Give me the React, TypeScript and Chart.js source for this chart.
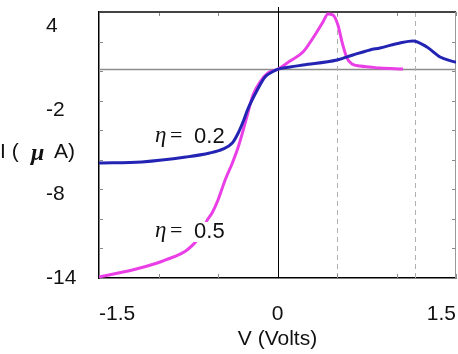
import React, { useEffect, useRef } from "react";
import { Chart, registerables } from "chart.js";

Chart.register(...registerables);

// eta = 0.2 curve (blue)
const blueV = [-1.5, -1.14, -0.77, -0.57, -0.46, -0.38, -0.33, -0.29, -0.25, -0.17, -0.105, -0.046, 0, 0.105, 0.214, 0.5, 0.634, 0.777, 0.861, 1.029, 1.139, 1.256, 1.366, 1.5];
const blueI = [-5.79, -5.71, -5.36, -5.07, -4.79, -4.36, -3.64, -2.86, -1.95, -0.57, 0.36, 0.71, 0.9, 1.07, 1.21, 1.57, 1.93, 2.29, 2.43, 2.79, 2.93, 2.5, 1.79, 1.4];

// eta = 0.5 curve (magenta)
const magentaV = [-1.5, -1.22, -1.01, -0.94, -0.76, -0.66, -0.59, -0.55, -0.5, -0.44, -0.38, -0.34, -0.3, -0.256, -0.206, -0.147, -0.08, 0, 0.105, 0.214, 0.298, 0.382, 0.424, 0.466, 0.508, 0.542, 0.584, 0.626, 0.693, 0.777, 0.861, 1.055];
const magentaI = [-13.93, -13.43, -12.93, -12.71, -12.0, -11.1, -9.86, -9.36, -8.43, -7.0, -5.8, -4.9, -3.79, -2.43, -0.93, 0.0, 0.64, 0.9, 1.5, 2.14, 3.14, 4.29, 4.86, 4.79, 4.07, 2.86, 1.71, 1.29, 1.14, 1.07, 1.0, 0.93];

const xTickValues = [-1.5, -1, -0.5, 0, 0.5, 1, 1.5];
const xTickLabels = ["-1.5", "", "", "0", "", "", "1.5"];
const yTickValues = [4, -2, -8, -14];
const yTickLabels = ["4", "-2", "-8", "-14"];
const yMinorTicks = [2.89, 0.78, -1.33, -3.44, -5.56, -7.67, -9.78, -11.89];
const zeroLineI = 0.9;
const dashedV = [0.5, 1.155];
const labelTexts = ["0.2", "0.5"];
const labelV = [-1.029, -1.029];
const labelI = [-4.36, -11.14];

const BLUE = "#2424b4";
const MAGENTA = "#ea3fe6";
const SANS = "'Liberation Sans', Arial, sans-serif";
const SERIF = "'Liberation Serif', 'Times New Roman', serif";

const decor = {
  id: "decor",
  beforeDatasetsDraw(chart: any) {
    const { ctx, chartArea, scales } = chart;
    const { left, right, top, bottom } = chartArea;
    const x = scales.x;
    const y = scales.y;
    const seg = (x1: number, y1: number, x2: number, y2: number) => {
      ctx.beginPath();
      ctx.moveTo(x1, y1);
      ctx.lineTo(x2, y2);
      ctx.stroke();
    };
    ctx.save();
    // horizontal reference line
    const zy = y.getPixelForValue(zeroLineI);
    ctx.strokeStyle = "#8c8c8c";
    ctx.lineWidth = 1.5;
    seg(left, zy, right, zy);
    // dashed vertical lines
    ctx.setLineDash([5, 4]);
    ctx.strokeStyle = "#b0b0b0";
    ctx.lineWidth = 1;
    dashedV.forEach((v) => {
      const px = Math.round(x.getPixelForValue(v)) + 0.5;
      seg(px, top, px, bottom);
    });
    ctx.setLineDash([]);
    // minor ticks
    ctx.strokeStyle = "#888";
    ctx.lineWidth = 1;
    yMinorTicks.forEach((v) => {
      const py = Math.round(y.getPixelForValue(v)) + 0.5;
      seg(left, py, left + 4, py);
      seg(right - 4, py, right, py);
    });
    xTickValues.forEach((v) => {
      const px = Math.round(x.getPixelForValue(v)) + 0.5;
      seg(px, bottom, px, bottom - 4);
      seg(px, top, px, top + 4);
    });
    // frame top and right
    ctx.strokeStyle = "#444";
    ctx.lineWidth = 2;
    seg(left, top, right, top);
    ctx.strokeStyle = "#999";
    ctx.lineWidth = 1;
    seg(right - 0.5, top, right - 0.5, bottom);
    // vertical axis at V = 0
    const x0 = Math.round(x.getPixelForValue(0)) + 0.5;
    ctx.strokeStyle = "#000";
    ctx.lineWidth = 1;
    seg(x0, top - 5, x0, bottom);
    ctx.restore();
  },
  afterDatasetsDraw(chart: any) {
    const { ctx, scales } = chart;
    const x = scales.x;
    const y = scales.y;
    ctx.save();
    ctx.textBaseline = "alphabetic";
    ctx.textAlign = "left";
    labelTexts.forEach((t, i) => {
      const px = x.getPixelForValue(labelV[i]);
      const py = y.getPixelForValue(labelI[i]);
      if (i === 1) {
        ctx.fillStyle = "#fff";
        ctx.fillRect(px + 22, py - 16, 52, 20);
      }
      ctx.fillStyle = "#111";
      ctx.font = `italic 23px ${SERIF}`;
      ctx.fillText("\u03b7", px, py - 1);
      ctx.font = `22px ${SERIF}`;
      ctx.fillText("=", px + 15, py - 1);
      ctx.font = `22px ${SANS}`;
      ctx.fillText(t, px + 39, py);
    });
    ctx.restore();
  },
  afterDraw(chart: any) {
    const { ctx } = chart;
    ctx.save();
    ctx.fillStyle = "#111";
    ctx.textBaseline = "middle";
    ctx.textAlign = "left";
    ctx.font = `21px ${SANS}`;
    ctx.fillText("I (", 0, 152);
    ctx.font = `bold italic 24px ${SERIF}`;
    ctx.fillText("\u03bc", 31, 154);
    ctx.font = `21px ${SANS}`;
    ctx.fillText("A)", 54, 152);
    ctx.restore();
  },
};

export default function App() {
  const ref = useRef<HTMLCanvasElement>(null);
  useEffect(() => {
    if (!ref.current) return;
    const chart = new Chart(ref.current, {
      type: "line",
      data: {
        datasets: [
          {
            label: "eta = 0.2",
            data: blueV.map((v, i) => ({ x: v, y: blueI[i] })),
            borderColor: BLUE,
            borderWidth: 3,
            pointRadius: 0,
            fill: false,
            cubicInterpolationMode: "monotone",
          },
          {
            label: "eta = 0.5",
            data: magentaV.map((v, i) => ({ x: v, y: magentaI[i] })),
            borderColor: MAGENTA,
            borderWidth: 3,
            pointRadius: 0,
            fill: false,
            cubicInterpolationMode: "monotone",
          },
        ],
      },
      options: {
        responsive: false,
        animation: false,
        layout: { padding: { left: 46, top: 12, right: 2, bottom: 0 } },
        plugins: { legend: { display: false }, tooltip: { enabled: false } },
        scales: {
          x: {
            type: "linear",
            min: -1.5,
            max: 1.5,
            afterBuildTicks: (s: any) => {
              s.ticks = xTickValues.map((v) => ({ value: v }));
            },
            afterFit: (s: any) => {
              s.height = 76;
              s.paddingLeft = 0;
              s.paddingRight = 0;
            },
            ticks: {
              autoSkip: false,
              maxRotation: 0,
              align: "inner",
              padding: 24,
              color: "#111",
              font: { family: SANS, size: 21 },
              callback: (_v: any, i: number) => xTickLabels[i],
            },
            grid: { display: false, drawTicks: false },
            border: { display: true, color: "#000", width: 1.5 },
            title: {
              display: true,
              text: "V (Volts)",
              color: "#111",
              font: { family: SANS, size: 21 },
              padding: { top: 0, bottom: 2 },
            },
          },
          y: {
            type: "linear",
            min: -14,
            max: 5,
            afterBuildTicks: (s: any) => {
              s.ticks = yTickValues.map((v) => ({ value: v }));
            },
            afterFit: (s: any) => {
              s.width = 53;
              s.paddingTop = 0;
              s.paddingBottom = 0;
            },
            ticks: {
              autoSkip: false,
              crossAlign: "far",
              color: "#111",
              font: { family: SANS, size: 21 },
              callback: (_v: any, i: number) => yTickLabels[i],
            },
            grid: { display: false, drawTicks: false },
            border: { display: true, color: "#000", width: 1.5 },
          },
        },
      },
      plugins: [decor],
    } as any);
    return () => chart.destroy();
  }, []);
  return (
    <div style={{ position: "fixed", left: 0, top: 0, width: 458, height: 354, background: "#fff" }}>
      <canvas ref={ref} width={458} height={354} style={{ display: "block" }} />
    </div>
  );
}
